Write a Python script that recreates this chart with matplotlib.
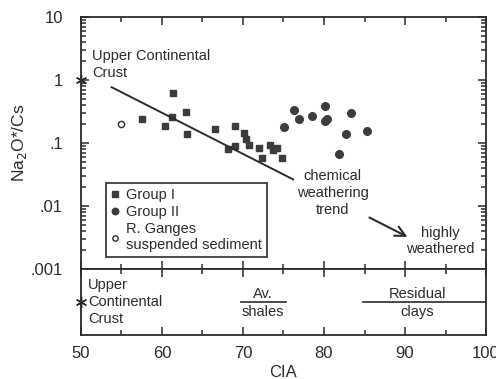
import matplotlib
matplotlib.use('Agg')
from matplotlib import pyplot as plt
from matplotlib.ticker import FixedLocator, FixedFormatter, LogLocator, NullFormatter, MultipleLocator

plt.rcParams['font.family'] = ['Liberation Sans', 'DejaVu Sans']
plt.rcParams['font.size'] = 10.5
INK = '#2b2b2b'

# data
group1_cia = [57.5, 60.4, 61.2, 61.4, 63.0, 63.1, 66.6, 68.2, 69.0, 69.0,
              70.1, 70.4, 70.7, 72.0, 72.4, 73.3, 73.7, 74.2, 74.8]
group1_ratio = [0.24, 0.19, 0.26, 0.63, 0.31, 0.14, 0.167, 0.080, 0.091, 0.184,
                0.142, 0.114, 0.093, 0.085, 0.057, 0.093, 0.078, 0.083, 0.059]
group2_cia = [75.1, 76.3, 76.9, 78.5, 80.1, 80.1, 80.4, 81.9, 82.7, 83.3, 85.3]
group2_ratio = [0.177, 0.34, 0.238, 0.27, 0.39, 0.224, 0.238, 0.067, 0.139, 0.30, 0.155]
ganges_cia = [55.0]
ganges_ratio = [0.2]
ucc_cia = 50
ucc_ratio = 1.0
trend_cia = [53.8, 76.2]
trend_ratio = [0.77, 0.0265]
arrow_cia = [85.3, 90.6]
arrow_ratio = [0.0069, 0.0031]
ytick_vals = [0.001, 0.01, 0.1, 1, 10]
ytick_labels = ['.001', '.01', '.1', '1', '10']
xtick_vals = [50, 60, 70, 80, 90, 100]

fig = plt.figure(figsize=(4.96, 3.79), dpi=100)
ax = fig.add_axes([0.163, 0.290, 0.817, 0.665])
ax2 = fig.add_axes([0.163, 0.116, 0.817, 0.174])

for a in (ax, ax2):
    for s in a.spines.values():
        s.set_color(INK)
        s.set_linewidth(1.3)

# top panel
ax.set_yscale('log')
ax.set_xlim(50, 100)
ax.set_ylim(0.001, 10)
ax.plot(group1_cia, group1_ratio, 's', ms=5, color='#3c3c3c', mec='#3c3c3c', label='Group I')
ax.plot(group2_cia, group2_ratio, 'o', ms=5.5, color='#3c3c3c', mec='#3c3c3c', label='Group II')
ax.plot(ganges_cia, ganges_ratio, 'o', ms=4.5, mfc='white', mec=INK, mew=1,
        label='R. Ganges\nsuspended sediment')
ax.plot([ucc_cia], [ucc_ratio], marker=(6, 2, 0), ms=8, color=INK, mew=1, clip_on=False, zorder=5)
ax.plot(trend_cia, trend_ratio, '-', color=INK, lw=1.4)
ax.annotate('', xy=(arrow_cia[1], arrow_ratio[1]), xytext=(arrow_cia[0], arrow_ratio[0]),
            arrowprops=dict(arrowstyle='->', color=INK, lw=1.5, mutation_scale=18))

ax.text(51.35, 3.1, 'Upper Continental\nCrust', color=INK, ha='left', va='top', linespacing=1.25)
ax.text(81.1, 0.016, 'chemical\nweathering\ntrend', color=INK, ha='center', va='center', linespacing=1.25)
ax.text(94.3, 0.0028, 'highly\nweathered', color=INK, ha='center', va='center', linespacing=1.25)

ax.yaxis.set_major_locator(FixedLocator(ytick_vals))
ax.yaxis.set_major_formatter(FixedFormatter(ytick_labels))
ax.yaxis.set_minor_locator(LogLocator(base=10, subs=range(2, 10)))
ax.yaxis.set_minor_formatter(NullFormatter())
ax.xaxis.set_major_locator(MultipleLocator(10))
ax.xaxis.set_minor_locator(MultipleLocator(5))
ax.tick_params(which='both', direction='in', top=True, right=True, labelbottom=False,
               color=INK, labelcolor=INK, width=1.1)
ax.tick_params(which='major', length=6)
ax.tick_params(which='minor', length=3.5)
ax.tick_params(axis='y', labelsize=12, pad=13)
ax.set_ylabel('Na$_2$O*/Cs', color=INK, fontsize=12.5, labelpad=1)

leg = ax.legend(loc='upper left', bbox_to_anchor=(0.062, 0.341), borderaxespad=0,
                frameon=True, fancybox=False, markerscale=0.85,
                handlelength=0.6, handletextpad=0.45, borderpad=0.35, labelspacing=0.2,
                fontsize=10.5, framealpha=1)
leg.get_frame().set_edgecolor(INK)
leg.get_frame().set_linewidth(1.2)
for t in leg.get_texts():
    t.set_color(INK)

# bottom panel
ax2.set_xlim(50, 100)
ax2.set_ylim(0, 1)
ax2.set_yticks([])
ax2.xaxis.set_major_locator(FixedLocator(xtick_vals))
ax2.xaxis.set_minor_locator(MultipleLocator(5))
ax2.tick_params(which='both', direction='in', top=True, color=INK, labelcolor=INK, width=1.1)
ax2.tick_params(which='major', length=6, labelsize=12, pad=8)
ax2.tick_params(which='minor', length=3.5)
ax2.set_xlabel('CIA', color=INK, fontsize=12, labelpad=3)

ax2.plot([ucc_cia], [0.5], marker=(6, 2, 0), ms=8, color=INK, mew=1, clip_on=False, zorder=5)
ax2.text(50.9, 0.5, 'Upper\nContinental\nCrust', color=INK, ha='left', va='center', linespacing=1.25)
ax2.plot([69.8, 75.3], [0.5, 0.5], color=INK, lw=1.2)
ax2.text(72.5, 0.62, 'Av.', color=INK, ha='center', va='center')
ax2.text(72.5, 0.35, 'shales', color=INK, ha='center', va='center')
ax2.plot([84.8, 100], [0.5, 0.5], color=INK, lw=1.2)
ax2.text(91.5, 0.62, 'Residual', color=INK, ha='center', va='center')
ax2.text(91.5, 0.35, 'clays', color=INK, ha='center', va='center')

fig.savefig('out.png', dpi=100)
